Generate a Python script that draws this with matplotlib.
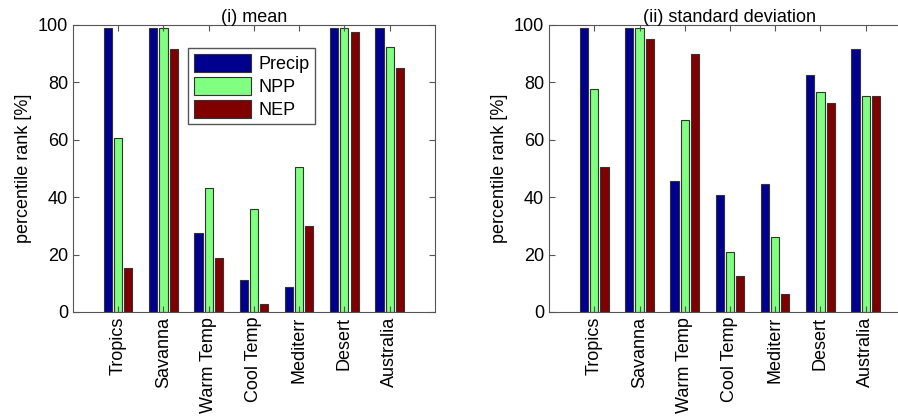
import numpy as np
import matplotlib.pyplot as plt

regions = ['Tropics', 'Savanna', 'Warm Temp', 'Cool Temp', 'Mediterr', 'Desert', 'Australia']
series = ['Precip', 'NPP', 'NEP']
colors = ['#00008f', '#80ff80', '#800000']

# percentile ranks
mean_precip = [98.7, 98.7, 27.4, 11.2, 8.8, 98.7, 98.7]
mean_npp = [60.5, 98.7, 43.1, 35.8, 50.5, 98.7, 92.3]
mean_nep = [15.2, 91.4, 18.7, 2.9, 29.9, 97.3, 85.0]

std_precip = [98.7, 98.7, 45.6, 40.6, 44.6, 82.5, 91.4]
std_npp = [77.5, 98.7, 66.7, 21.0, 26.0, 76.5, 75.2]
std_nep = [50.5, 94.9, 89.9, 12.7, 6.4, 72.7, 75.2]

plt.rcParams['font.family'] = 'Liberation Sans'

fig = plt.figure(figsize=(8.98, 4.17), dpi=100)
ax1 = fig.add_axes([0.0813, 0.2518, 0.403, 0.689])
ax2 = fig.add_axes([0.6114, 0.2518, 0.403, 0.689])

x = np.arange(1, len(regions) + 1)
offsets = [-0.225, 0.0, 0.225]
width = 0.18


def draw(ax, data, title):
    bars = []
    for vals, off, c, name in zip(data, offsets, colors, series):
        b = ax.bar(x + off, vals, width, color=c, edgecolor='#333333',
                   linewidth=0.8, label=name)
        bars.append(b)
    ax.set_xlim(0, 8)
    ax.set_ylim(0, 100)
    ax.set_yticks([0, 20, 40, 60, 80, 100])
    ax.set_xticks(x)
    ax.set_xticklabels(regions, rotation=90, fontsize=13)
    ax.tick_params(axis='y', labelsize=13)
    ax.tick_params(direction='in', top=True, right=True, length=4,
                   color='#555555')
    for s in ax.spines.values():
        s.set_color('#555555')
    ax.set_ylabel('percentile rank [%]', fontsize=13)
    ax.set_title(title, fontsize=13, pad=2)
    return bars


draw(ax1, [mean_precip, mean_npp, mean_nep], '(i) mean')
draw(ax2, [std_precip, std_npp, std_nep], '(ii) standard deviation')

leg = ax1.legend(loc='upper left', bbox_to_anchor=(0.318, 0.918), fontsize=13,
                 fancybox=False, framealpha=1, edgecolor='#555555',
                 handlelength=3.2, handleheight=1.2, labelspacing=0.2,
                 borderpad=0.3, handletextpad=0.4, borderaxespad=0)
leg.get_frame().set_linewidth(1.0)

fig.savefig('out.png', dpi=100)
